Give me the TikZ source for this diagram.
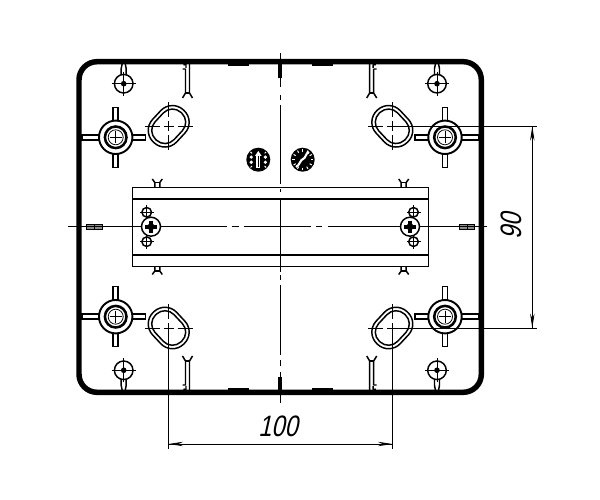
\documentclass[tikz,border=0pt]{standalone}
\usepackage{fontspec}
\setmainfont{Liberation Sans}
\newfontfamily\dimfont[FakeSlant=0.22, FakeStretch=0.8]{Liberation Sans}
\usetikzlibrary{arrows.meta}
\tikzset{
    partline/.style={line width=1.05pt},
    thinline/.style={line width=0.55pt},
    dimtip/.style={-{Stealth[length=3.6mm, width=1.1mm]}},
    dimtext/.style={inner sep=0pt, font=\fontsize{21}{21}\dimfont},
    boss/.pic={
        \draw[partline, fill=white] (-2.5, -30) rectangle (2.5, 30);
        \draw[partline, fill=white] (-33.7, -2.5) rectangle (30, 2.5);
        \draw[line width=1.35pt, fill=white] (0, 0) circle[radius=16.7];
        \draw[line width=1.8pt] (0, 0) circle[radius=10.8];
        \draw[thinline] (0, 0) circle[radius=7.5];
        \draw[thinline] (-6, 0) -- (6, 0) (0, -6) -- (0, 6);
    },
    slot/.pic={
        \draw[partline, rounded corners=4mm] (-22, -16.5) rectangle (22, 16.5);
        \draw[partline, rounded corners=3.1mm] (-18.5, -13) rectangle (18.5, 13);
    },
    slotaxes/.pic={
        \draw[thinline] (-24, 0) -- (-9, 0) (-5, 0) -- (5, 0) (9, 0) -- (24, 0);
        \draw[thinline] (0, -24) -- (0, -9) (0, -5) -- (0, 5) (0, 9) -- (0, 24);
    },
    holder/.pic={
        \draw[partline] (0, 0) circle[radius=9.3];
        \fill (0, 0) circle[radius=2.8];
        \draw[thinline] (-12, 0) -- (12, 0) (0, -12) -- (0, 12);
        \draw[partline] (-2.5, -9) -- (-2.5, -15) -- (-1.5, -20) (2.5, -9) -- (2.5, -15) -- (1.5, -20);
    },
    clip/.pic={
        \draw[partline] (-2, 5) -- (-2, 29) -- (-5, 34) (2, 0) -- (2, 29) -- (5, 34);
        \draw[partline] (-2, 29) -- (2, 29);
        \draw[partline] (-4, 1) -- (-1, 0) (-5, 5) -- (-2, 5) (-1.5, 1) -- (-1.5, 4);
    },
    railclip/.pic={
        \draw[partline] (-2.5, 0) -- (-2.5, -4.5) -- (-5, -8) (2.5, 0) -- (2.5, -4.5) -- (5, -8);
        \draw[partline] (-2.5, -4.5) -- (2.5, -4.5);
    },
    smallscrew/.pic={
        \draw[partline, fill=white] (0, 0) circle[radius=4.8];
        \draw[thinline] (-7, 0) -- (7, 0) (0, -7) -- (0, 7);
    },
    bigscrew/.pic={
        \draw[partline, fill=white] (0, 0) circle[radius=9.5];
        \draw[line width=3pt] (-6, 0) -- (6, 0) (0, -6) -- (0, 6);
        \fill (0, 0) circle[radius=3.5];
    },
}

\begin{document}
\begin{tikzpicture}[x=0.25mm, y=-0.25mm]
    \useasboundingbox (0, 0) rectangle (600, 500);
    % body
    \draw[line width=3.9pt, rounded corners=4.5mm] (79, 61.7) rectangle (481.3, 392.3);
    \foreach \xx/\yy in {228/64.5, 312/64.5, 228/388.5, 312/388.5}
        \fill (\xx, \yy) rectangle ++(20.5, 1.5);
    \fill (278.3, 62) rectangle (282, 78);
    \fill (278.3, 377) rectangle (282, 392);
    % rail
    \draw[line width=1.1pt] (132.3, 187.3) rectangle (428.3, 266.3);
    \draw[line width=1.1pt] (132.3, 199) -- (428.3, 199) (132.3, 255) -- (428.3, 255);
    \pic at (157.3, 187) {railclip};
    \pic at (403.7, 187) {railclip};
    \pic[yscale=-1] at (157.3, 266.5) {railclip};
    \pic[yscale=-1] at (403.7, 266.5) {railclip};
    \pic at (146.7, 212.3) {smallscrew};
    \pic at (146.7, 241.7) {smallscrew};
    \pic at (413.5, 212.3) {smallscrew};
    \pic at (413.5, 241.7) {smallscrew};
    % side tabs
    \foreach \xx in {86.5, 459}
        \filldraw[fill=black!45, line width=0.7pt] (\xx, 224.3) rectangle ++(15.5, 5)
            (\xx + 8, 224.3) -- ++(0, 5);
    % axes
    \draw[thinline, dash pattern=on 24.5pt off 5.5pt on 3.6pt off 3.6pt on 56pt off 3.6pt on 2.2pt off 5.6pt on 51pt off 2.2pt on 3.6pt off 3.6pt on 50pt off 3.6pt on 4.2pt off 4.2pt on 27pt]
        (280, 53) -- (280, 403);
    \draw[thinline, dash pattern=on 113pt off 3.5pt on 5pt off 3.5pt on 48pt off 3.5pt on 4.2pt off 4.2pt on 113pt]
        (68, 226.7) -- (490, 226.7);
    \pic at (151, 226.7) {bigscrew};
    \pic at (410, 226.7) {bigscrew};
    % bosses
    \pic at (115.7, 137.3) {boss};
    \pic at (115.7, 316.7) {boss};
    \pic[xscale=-1] at (445, 137.3) {boss};
    \pic[xscale=-1] at (445, 316.7) {boss};
    % slots
    \pic[rotate=47] at (168.7, 126.3) {slot};
    \pic[rotate=-47] at (392.3, 126.3) {slot};
    \pic[rotate=-47] at (168.7, 328) {slot};
    \pic[rotate=47] at (392.3, 328) {slot};
    \pic at (168.7, 126.3) {slotaxes};
    \pic at (392.3, 126.3) {slotaxes};
    \pic at (168.7, 328) {slotaxes};
    \pic at (392.3, 328) {slotaxes};
    % holders and clips
    \pic at (123.7, 83.7) {holder};
    \pic at (437, 83.7) {holder};
    \pic[yscale=-1] at (123.7, 370.3) {holder};
    \pic[yscale=-1] at (437, 370.3) {holder};
    \pic at (187.5, 64) {clip};
    \pic[xscale=-1] at (371.7, 64) {clip};
    \pic[yscale=-1] at (187.5, 390) {clip};
    \pic[xscale=-1, yscale=-1] at (371.7, 390) {clip};
    % marks
    \fill (258.3, 159.7) circle[radius=12];
    \foreach \angle in {20, 160, 200, 340}
        \fill[white] (\angle:7.5) ++(258.3, 159.7) circle[radius=1.8];
    \foreach \angle in {45, 135, 225, 315}
        \draw[white, line width=0.7pt] (\angle:9) ++(258.3, 159.7) -- ++(\angle:2);
    \draw[white, line width=2.6pt] (258.3, 155) -- (258.3, 168);
    \draw[line width=0.9pt] (258.3, 156) -- (258.3, 167);
    \fill[white] (258.3, 151) -- (255, 156) -- (261.6, 156) -- cycle;
    \fill (302.7, 159.7) circle[radius=12];
    \foreach \angle in {0, 30, ..., 330}
        \draw[white, line width=0.7pt] (\angle:8) ++(302.7, 159.7) -- ++(\angle:2.5);
    \draw[white, line width=1.5pt] (296, 167) .. controls (300, 165) and (300, 160) .. (303, 159)
        .. controls (306, 158) and (305, 154) .. (309, 152);
    % dimensions
    \coordinate (slotTR) at (392.3, 126.3);
    \coordinate (slotBR) at (392.3, 328);
    \coordinate (slotBL) at (168.7, 328);
    \coordinate (dimTop) at (532.3, 126.3);
    \coordinate (dimBot) at (532.3, 328);
    \coordinate (dimLeft) at (168.7, 444);
    \coordinate (dimRight) at (392.3, 444);
    \draw[thinline] (slotTR) -- ++(144.4, 0);
    \draw[thinline] (slotBR) -- ++(144.4, 0);
    \draw[thinline] (slotBL) -- ++(0, 121);
    \draw[thinline] (slotBR) -- ++(0, 121);
    \draw[thinline, dimtip] (dimTop) -- (dimBot);
    \draw[thinline, dimtip] (dimBot) -- (dimTop);
    \draw[thinline, dimtip] (dimLeft) -- (dimRight);
    \draw[thinline, dimtip] (dimRight) -- (dimLeft);
    \node[dimtext] (dimWidth) at (278, 426) {100};
    \node[dimtext, rotate=90] (dimHeight) at (511, 226) {90};
\end{tikzpicture}
\end{document}
